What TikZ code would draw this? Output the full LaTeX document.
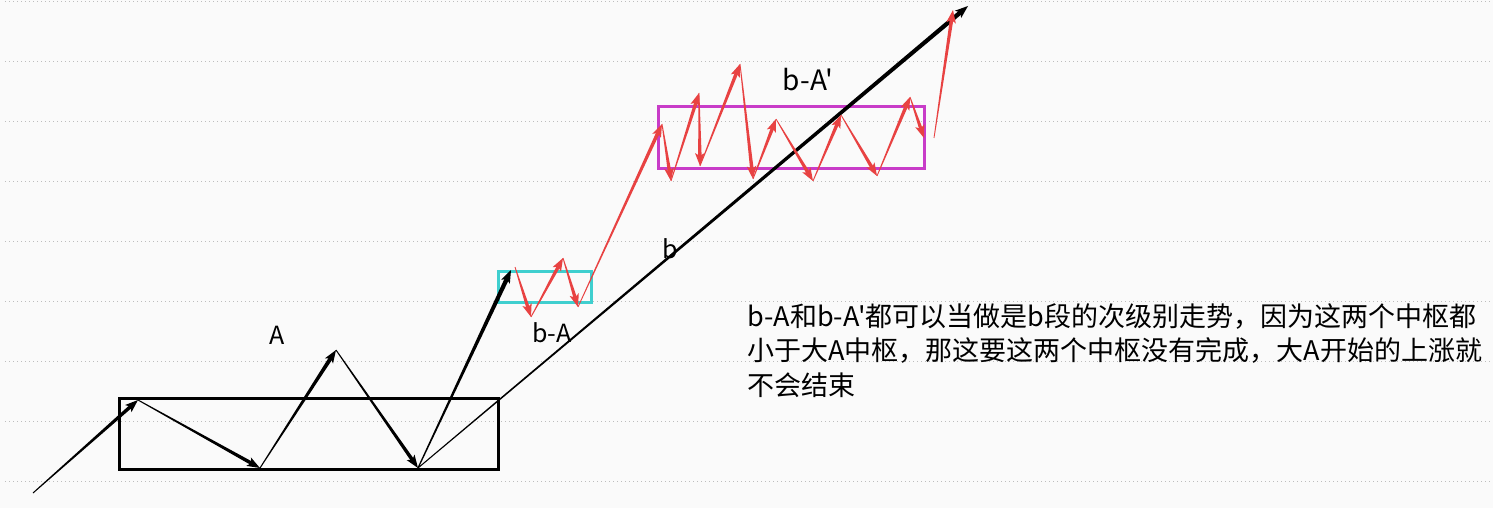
\documentclass[tikz,border=0pt]{standalone}
\usepackage{fontspec}
\usepackage{tikz}
\usetikzlibrary{calc}
\newfontfamily\cjk{Noto Sans CJK SC}

\definecolor{bgcol}{HTML}{FAFAFA}
\definecolor{gridcol}{HTML}{BDBDBD}
\definecolor{upred}{HTML}{E84242}
\definecolor{boxcyan}{HTML}{3FCFCF}
\definecolor{boxmag}{HTML}{C83CC8}

% tapered arrow: colour, from, to, half width at start, half width at end
\newcommand{\taperarrow}[5]{%
  \path ($(#3)!4pt!(#2)$) coordinate (tpend)
        ($(#3)!6.5pt!(#2)$) coordinate (tpbase)
        ($(#3)!5pt!(#2)$) coordinate (tpnotch);
  \fill[#1] ($(#2)!#4!90:(#3)$) -- ($(#2)!#4!-90:(#3)$)
     -- ($(tpend)!#5!90:(#2)$) -- ($(tpend)!#5!-90:(#2)$) -- cycle;
  \fill[#1] (#3) -- ($(tpbase)!2.4pt!90:(#2)$) -- (tpnotch)
     -- ($(tpbase)!2.4pt!-90:(#2)$) -- cycle;
}

\begin{document}
\begin{tikzpicture}[
    x=0.5pt, y=-0.5pt,
    grid/.style={gridcol, line width=0.5pt, dash pattern=on 0.5pt off 1.5pt},
    zsbox/.style={line width=1.5pt},
    lbl/.style={font=\cjk\fontsize{12.5}{15}\selectfont, inner sep=0pt},
    para/.style={font=\cjk\fontsize{13.5}{17.25}\selectfont, align=left, inner sep=0pt}
]
\useasboundingbox (0,0) rectangle (1493,508);
\fill[bgcol] (0,0) rectangle (1493,508);

% --- Grid ---
\foreach \k in {0,...,8}
  \draw[grid] (5,{2+59.9*\k}) -- (1493,{2+59.9*\k});

% --- Pivot boxes ---
\draw[zsbox, black] (119,398) rectangle (498,469);
\draw[zsbox, boxcyan] (498,271) rectangle (591,302);
\draw[zsbox, boxmag] (658,107) rectangle (924,168);

% --- Black moves ---
\coordinate (p0) at (33,493);
\coordinate (p1) at (138,400);
\coordinate (p2) at (260,468);
\coordinate (p3) at (336,350);
\coordinate (p4) at (418,468);
\coordinate (p5) at (511,270);
\coordinate (p6) at (968,6);

\taperarrow{black}{p0}{p1}{0.25pt}{0.9pt}
\taperarrow{black}{p1}{p2}{0.25pt}{0.9pt}
\taperarrow{black}{p2}{p3}{0.25pt}{1pt}
\taperarrow{black}{p3}{p4}{0.25pt}{0.9pt}
\taperarrow{black}{p4}{p5}{0.3pt}{1.1pt}
\taperarrow{black}{p4}{p6}{0.25pt}{1.1pt}

% --- Red moves ---
\coordinate (r0) at (515,267);
\coordinate (r1) at (531,317);
\coordinate (r2) at (563,258);
\coordinate (r3) at (578,307);
\coordinate (r4) at (662,124);
\coordinate (r5) at (671,181);
\coordinate (r6) at (699,93);
\coordinate (r7) at (700,166);
\coordinate (r8) at (740,64);
\coordinate (r9) at (753,179);
\coordinate (r10) at (776,119);
\coordinate (r11) at (813,181);
\coordinate (r12) at (841,115);
\coordinate (r13) at (877,176);
\coordinate (r14) at (910,97);
\coordinate (r15) at (924,138);
\coordinate (r16) at (934,138);
\coordinate (r17) at (953,10);

\foreach \s/\e in {r0/r1, r1/r2, r2/r3, r3/r4, r4/r5, r5/r6, r6/r7, r7/r8,
                   r8/r9, r9/r10, r10/r11, r11/r12, r12/r13, r13/r14, r14/r15, r16/r17}
  {\taperarrow{upred}{\s}{\e}{0.2pt}{0.9pt}}

% --- Labels ---
\node[lbl] (labA) at (277,335) {A};
\node[lbl] (labbA) at (552,333) {b-A};
\node[lbl] (labb) at (670,249) {b};
\node[lbl, font=\cjk\fontsize{14}{16}\selectfont] (labbA2) at (808,80) {b-A'};

% --- Note ---
\node[para, anchor=north west] (note) at (747,303)
  {b-A和b-A'都可以当做是b段的次级别走势，因为这两个中枢都\\
   小于大A中枢，那这要这两个中枢没有完成，大A开始的上涨就\\
   不会结束};
\end{tikzpicture}
\end{document}
